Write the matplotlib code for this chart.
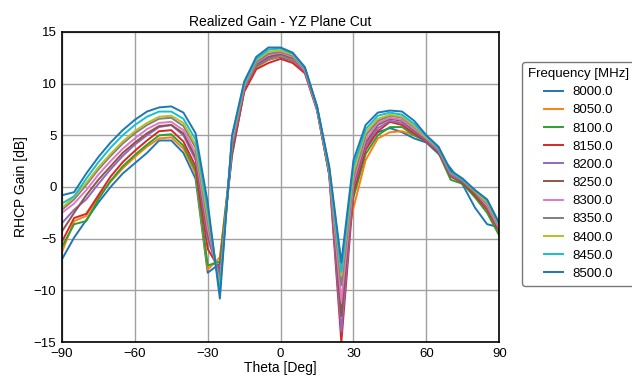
import matplotlib
matplotlib.use("Agg")
import matplotlib.pyplot as plt

plt.rcParams['font.family'] = ['Liberation Sans', 'DejaVu Sans']

theta = list(range(-90, 91, 5))
freqs = [8000.0, 8050.0, 8100.0, 8150.0, 8200.0, 8250.0, 8300.0, 8350.0, 8400.0, 8450.0, 8500.0]

# gain values, -90..90 deg in 5 deg steps
g8000 = [-7.0, -4.9, -3.2, -1.5, 0.0, 1.3, 2.3, 3.3, 4.5, 4.5, 3.3, 0.8, -8.3, -7.4,
         3.0, 9.3, 11.6, 12.3, 12.6, 12.2, 11.2, 7.6, 1.2, -7.5,
         1.2, 4.0, 5.3, 5.7, 5.3, 4.7, 4.3, 3.2, 1.8, 0.2, -2.0, -3.6, -3.9]
g8050 = [-6.3, -3.3, -2.8, -1.0, 0.5, 1.8, 2.9, 3.9, 4.7, 4.8, 3.7, 1.3, -8.0, -6.8,
         3.4, 9.4, 11.6, 12.3, 12.7, 12.3, 11.2, 7.6, 1.9, -8.0,
         -2.0, 2.6, 4.7, 5.3, 5.4, 5.0, 4.5, 3.5, 1.2, 0.5, -0.8, -2.0, -4.2]
g8100 = [-5.8, -3.6, -3.3, -1.2, 0.6, 2.0, 3.1, 4.1, 5.0, 5.1, 4.0, 1.6, -7.6, -7.2,
         3.6, 9.5, 11.7, 12.4, 12.8, 12.4, 11.3, 7.7, 1.5, -8.5,
         -1.0, 3.2, 5.0, 5.8, 5.8, 5.0, 4.4, 3.3, 0.7, 0.3, -1.0, -2.5, -4.7]
g8150 = [-5.3, -3.0, -2.6, -0.8, 1.0, 2.4, 3.5, 4.5, 5.4, 5.5, 4.4, 2.0, -6.0, -8.0,
         3.3, 9.2, 11.4, 12.0, 12.4, 12.0, 11.0, 7.4, 1.2, -15.0,
         -0.5, 3.6, 5.4, 6.3, 6.0, 5.2, 4.4, 3.4, 1.0, 0.4, -0.8, -2.2, -4.3]
g8200 = [-3.5, -2.2, -1.2, 0.3, 1.7, 3.0, 4.1, 5.0, 5.8, 6.0, 5.0, 2.6, -5.0, -8.5,
         3.8, 9.5, 11.8, 12.4, 12.8, 12.4, 11.2, 7.5, 1.3, -14.0,
         0.0, 4.0, 5.7, 6.4, 6.2, 5.4, 4.5, 3.5, 1.1, 0.5, -0.6, -2.0, -4.1]
g8250 = [-4.3, -2.5, -0.8, 0.7, 2.0, 3.3, 4.3, 5.2, 5.9, 6.0, 5.2, 2.9, -4.5, -9.0,
         4.0, 9.6, 11.9, 12.6, 12.9, 12.5, 11.3, 7.6, 1.4, -12.5,
         0.3, 4.3, 6.0, 6.6, 6.4, 5.5, 4.6, 3.6, 1.2, 0.5, -0.6, -1.9, -4.0]
g8300 = [-2.5, -1.6, -0.3, 1.2, 2.5, 3.7, 4.7, 5.6, 6.2, 6.3, 5.5, 3.3, -4.0, -9.3,
         4.2, 9.7, 12.0, 12.8, 13.0, 12.6, 11.3, 7.6, 1.5, -11.0,
         0.6, 4.6, 6.2, 6.7, 6.5, 5.6, 4.7, 3.6, 1.3, 0.6, -0.5, -1.8, -4.0]
g8350 = [-2.2, -1.2, 0.2, 1.7, 3.0, 4.2, 5.2, 6.0, 6.6, 6.7, 5.9, 3.8, -3.3, -9.6,
         4.4, 9.8, 12.1, 12.9, 13.1, 12.7, 11.4, 7.7, 1.6, -9.5,
         1.0, 5.0, 6.4, 6.9, 6.7, 5.8, 4.8, 3.7, 1.4, 0.6, -0.5, -1.6, -3.8]
g8400 = [-2.0, -1.0, 0.4, 1.9, 3.2, 4.4, 5.4, 6.2, 6.8, 6.9, 6.2, 4.1, -2.8, -9.8,
         4.6, 9.9, 12.3, 13.1, 13.2, 12.8, 11.5, 7.7, 1.7, -8.6,
         1.4, 5.3, 6.6, 7.0, 6.8, 5.9, 4.8, 3.8, 1.5, 0.7, -0.4, -1.5, -3.7]
g8450 = [-1.6, -0.9, 0.8, 2.4, 3.8, 5.0, 6.0, 6.8, 7.3, 7.3, 6.6, 4.6, -2.2, -10.2,
         4.8, 10.0, 12.4, 13.3, 13.4, 12.9, 11.5, 7.8, 1.8, -8.2,
         2.0, 5.6, 6.9, 7.2, 7.0, 6.1, 4.9, 3.8, 1.5, 0.7, -0.3, -1.3, -3.6]
g8500 = [-0.8, -0.5, 1.3, 2.9, 4.3, 5.5, 6.5, 7.3, 7.7, 7.8, 7.2, 5.2, -1.5, -10.8,
         5.0, 10.2, 12.6, 13.5, 13.5, 13.0, 11.6, 7.8, 2.0, -7.3,
         2.6, 6.0, 7.2, 7.4, 7.3, 6.4, 5.0, 3.9, 1.6, 0.8, -0.3, -1.2, -3.5]

gains = [g8000, g8050, g8100, g8150, g8200, g8250, g8300, g8350, g8400, g8450, g8500]

fig = plt.figure(figsize=(6.32, 3.79), dpi=100)
ax = fig.add_axes([0.098, 0.0976, 0.692, 0.818])

for f, g in zip(freqs, gains):
    ax.plot(theta, g, linewidth=1.4, label=str(f))

ax.set_xlim(-90, 90)
ax.set_ylim(-15, 15)
ax.set_xticks([-90, -60, -30, 0, 30, 60, 90])
ax.set_yticks([-15, -10, -5, 0, 5, 10, 15])
ax.grid(color='#a0a0a0', linewidth=1.0)
ax.set_axisbelow(True)
for s in ax.spines.values():
    s.set_color('black')
    s.set_linewidth(1.2)
ax.tick_params(labelsize=9.5, length=0, pad=4)
ax.set_title('Realized Gain - YZ Plane Cut', fontsize=10, pad=4)
ax.set_xlabel('Theta [Deg]', fontsize=10, labelpad=1)
ax.set_ylabel('RHCP Gain [dB]', fontsize=10, labelpad=4)

leg = ax.legend(title='Frequency [MHz]', loc='upper left', bbox_to_anchor=(1.052, 0.903),
                borderaxespad=0, fontsize=9.5, title_fontsize=9.5, frameon=True,
                fancybox=True, edgecolor='#555555', handlelength=1.45,
                handletextpad=0.7, labelspacing=0.45, borderpad=0.45)
leg.get_frame().set_linewidth(1.0)

fig.savefig('out.png', dpi=100)
